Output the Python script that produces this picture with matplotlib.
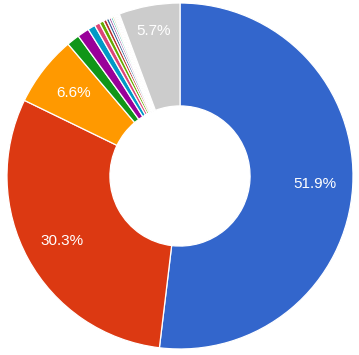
import numpy as np
import matplotlib
matplotlib.use("Agg")
import matplotlib.pyplot as plt

# slice shares (%), clockwise from 12 o'clock, "Other" last
values = [51.9, 30.3, 6.6, 1.2, 1.1, 0.7, 0.5, 0.4,
          0.3, 0.25, 0.2, 0.17, 0.14, 0.12, 0.1, 0.09, 0.08, 0.06, 0.05, 0.04,
          5.7]
colors = ["#3366cc", "#dc3912", "#ff9900", "#109618", "#990099", "#0099c6",
          "#dd4477", "#66aa00", "#b82e2e", "#316395", "#994499", "#22aa99",
          "#aaaa11", "#6633cc", "#e67300", "#8b0707", "#651067", "#329262",
          "#5574a6", "#3b3eac", "#cccccc"]

plt.rcParams["font.family"] = ["Liberation Sans", "DejaVu Sans"]

fig = plt.figure(figsize=(3.59, 3.55), dpi=100)
ax = fig.add_axes([7 / 359, 6 / 355, 346 / 359, 346 / 355])

def fmt(p):
    return f"{p:.1f}%" if p >= 5 else ""

wedges, texts, autotexts = ax.pie(
    values, colors=colors, startangle=90, counterclock=False,
    autopct=fmt, pctdistance=0.78, radius=1.0,
    wedgeprops=dict(width=0.595, edgecolor="white", linewidth=0.9),
    textprops=dict(color="white", fontsize=11))

# small slices get their label pushed a bit outward (like the original)
for w, t, v in zip(wedges, autotexts, values):
    if not t.get_text():
        continue
    d = 0.78 if v > 6 else 0.82
    if v < 6:
        d = 0.85
    mid = np.deg2rad((w.theta1 + w.theta2) / 2)
    t.set_position((d * np.cos(mid), d * np.sin(mid)))

ax.set_xlim(-1, 1)
ax.set_ylim(-1, 1)
ax.axis("off")

fig.savefig("out.png", dpi=100, facecolor="white")
